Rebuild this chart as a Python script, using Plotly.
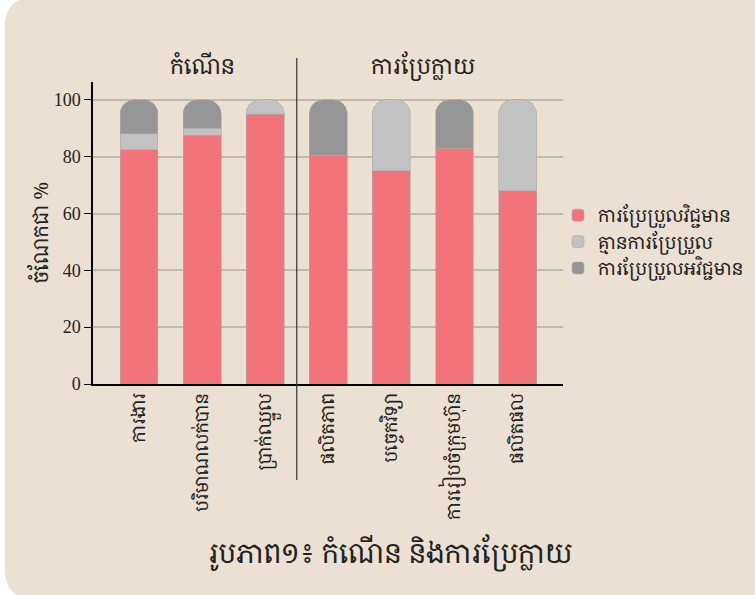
import plotly.graph_objects as go

categories = ["ការងារ", "បរិមាណលក់បាន", "ប្រាក់ឈ្នួល", "ផលិតភាព", "បច្ចេកវិទ្យា", "ការរៀបចំក្រុមហ៊ុន", "ផលិតផល"]
positive = [82.5, 87.5, 95, 80.5, 75, 83, 68]
no_change = [5.5, 2.5, 5, None, 25, None, 32]
negative = [12, 10, None, 19.5, None, 17, None]
series_names = ["ការប្រែប្រួលវិជ្ជមាន", "គ្មានការប្រែប្រួល", "ការប្រែប្រួលអវិជ្ជមាន"]
group_labels = ["កំណើន", "ការប្រែក្លាយ"]
y_ticks = [0, 20, 40, 60, 80, 100]
title_text = "រូបភាព១៖ កំណើន និងការប្រែក្លាយ"
y_title = "ចំណែកជា %"

W, H = 755, 595
ML, MR, MT, MB = 93, 192, 82, 211
PW = W - ML - MR
PH = H - MT - MB

def fx(px):
    return (px - ML) / PW

def fy(py):
    return (H - MB - py) / PH

KH = "Noto Serif Khmer, Khmer OS, Noto Sans Khmer, Liberation Serif, serif"
SERIF = "Liberation Serif, Times New Roman, serif"
BG = "#EAE1D3"

colors = ["#F2737A", "#C2C2C2", "#959695"]
fig = go.Figure()
for name, vals, c in zip(series_names, [positive, no_change, negative], colors):
    fig.add_trace(go.Bar(x=categories, y=vals, name=name, marker_color=c,
                         marker_line_color="rgba(170,170,170,0.6)", marker_line_width=1,
                         width=0.6))

# card background
r = 28
x0, x1, y0, y1 = 5, 765, -2, 598
path = (f"M {fx(x0 + r)} {fy(y0)} L {fx(x1)} {fy(y0)} L {fx(x1)} {fy(y1)} "
        f"L {fx(x0 + r)} {fy(y1)} Q {fx(x0)} {fy(y1)} {fx(x0)} {fy(y1 - r)} "
        f"L {fx(x0)} {fy(y0 + r)} Q {fx(x0)} {fy(y0)} {fx(x0 + r)} {fy(y0)} Z")
shapes = [dict(type="path", xref="paper", yref="paper", path=path,
               fillcolor=BG, line=dict(width=0), layer="below"),
          dict(type="line", xref="x", yref="paper", x0=2.5, x1=2.5,
               y0=fy(480), y1=fy(58), line=dict(color="#333333", width=1.2))]

annotations = [
    dict(text=group_labels[0], xref="x", yref="paper", x=1, y=fy(65), yanchor="middle",
         showarrow=False, font=dict(family=KH, size=22, color="#222222")),
    dict(text=group_labels[1], xref="x", yref="paper", x=4.5, y=fy(65), yanchor="middle",
         showarrow=False, font=dict(family=KH, size=22, color="#222222")),
    dict(text=title_text, xref="paper", yref="paper", x=fx(390), y=fy(553), yanchor="middle",
         showarrow=False, font=dict(family=KH, size=27, color="#222222")),
]

fig.update_layout(
    width=W, height=H,
    margin=dict(l=ML, r=MR, t=MT, b=MB, autoexpand=False),
    paper_bgcolor="white", plot_bgcolor=BG,
    barmode="stack", barcornerradius=14,
    shapes=shapes, annotations=annotations,
    showlegend=True,
    legend=dict(traceorder="normal", x=fx(558), y=fy(242), xanchor="left", yanchor="middle",
                font=dict(family=KH, size=18, color="#222222"), bgcolor="rgba(0,0,0,0)",
                itemwidth=30, tracegroupgap=0),
    font=dict(family=SERIF, color="#222222"),
)
fig.update_xaxes(range=[-0.73, 6.72], showline=True, linecolor="black", linewidth=1.5,
                 tickangle=-90, ticks="", tickfont=dict(family=KH, size=18, color="#222222"),
                 showgrid=False)
fig.update_yaxes(range=[0, 106.3], tickvals=y_ticks, showline=True, linecolor="black", linewidth=1.5,
                 ticks="outside", ticklen=7, tickcolor="black", tickwidth=1,
                 tickfont=dict(family=SERIF, size=18, color="#222222"),
                 showgrid=True, gridcolor="#BEBCA8", gridwidth=2, zeroline=False,
                 title=dict(text=y_title, font=dict(family=KH, size=20, color="#222222"), standoff=0))

fig.write_html("out.html", config={"displayModeBar": False},
               post_script="document.body.style.margin='0';")
